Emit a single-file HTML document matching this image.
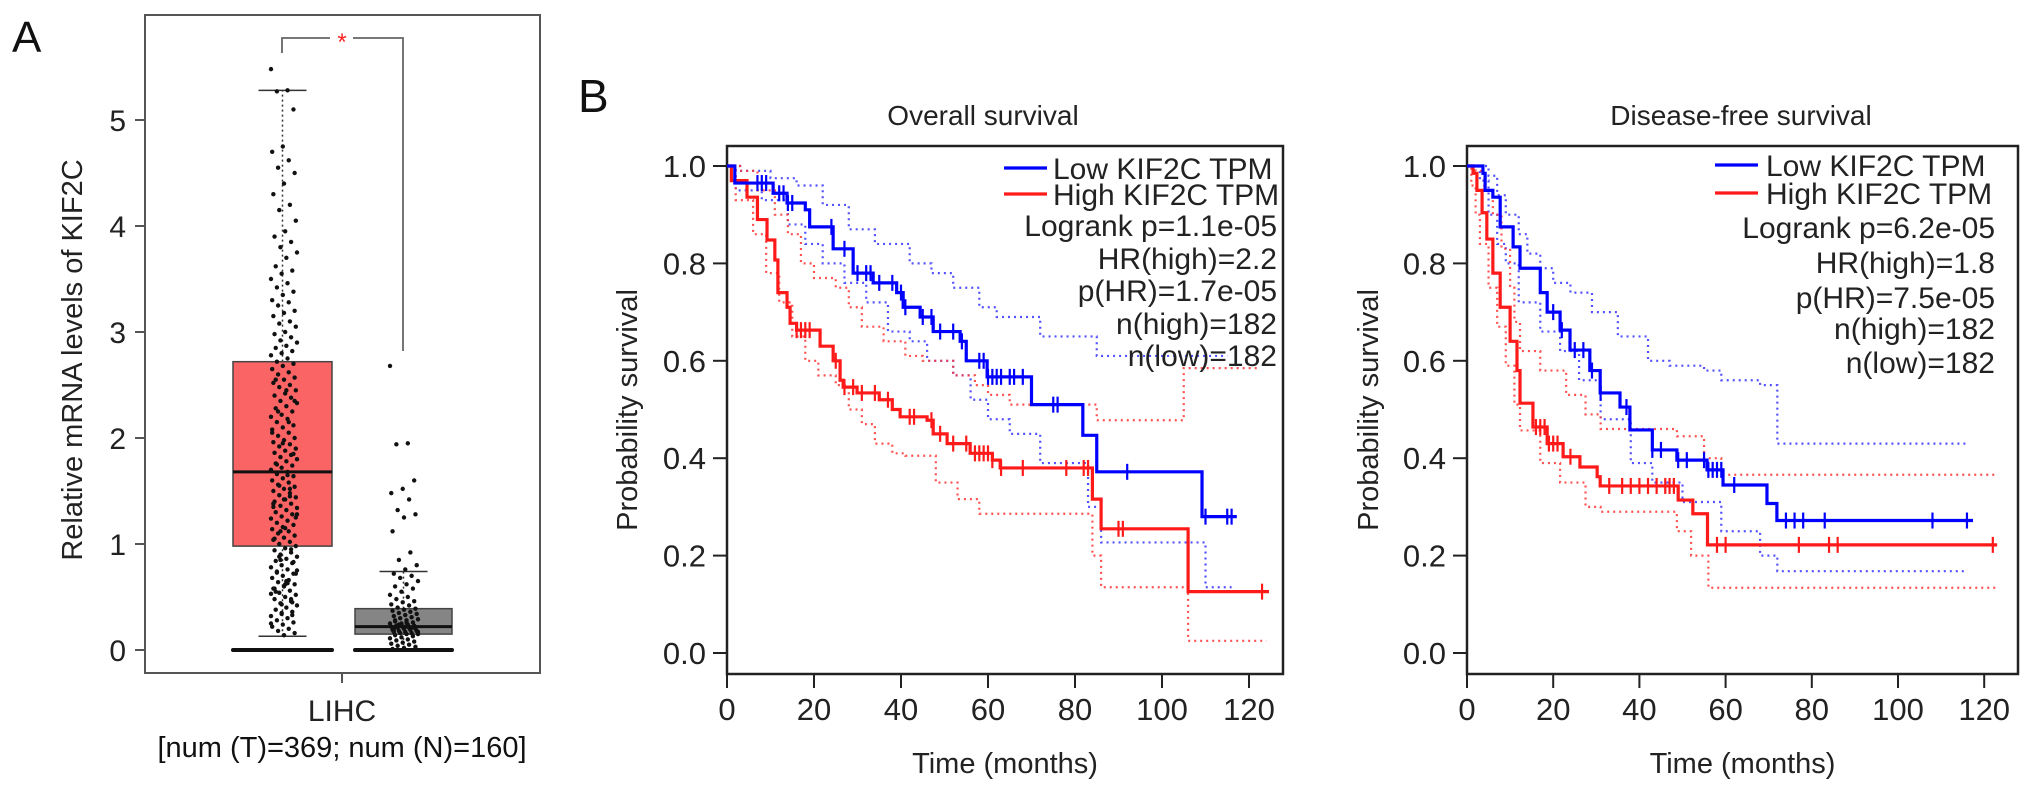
<!DOCTYPE html>
<html><head><meta charset="utf-8">
<style>
html,body{margin:0;padding:0;background:#fff;}
svg{display:block;font-family:"Liberation Sans",Arial,sans-serif;}
</style></head>
<body>
<svg id="fig" width="2032" height="794" viewBox="0 0 2032 794" xmlns="http://www.w3.org/2000/svg">
  <rect x="0" y="0" width="2032" height="794" fill="#fff"/>
  <g id="panelA">
    <text x="12" y="52" font-size="44" fill="#111">A</text>
    <rect x="145" y="15" width="395" height="658" fill="none" stroke="#555" stroke-width="2"/>
    <text transform="translate(82,360) rotate(-90)" text-anchor="middle" font-size="29" fill="#222">Relative mRNA levels of KIF2C</text>
    <g id="aAxis"></g>
    <g id="aMarks"></g>
    <line x1="342" y1="673" x2="342" y2="683" stroke="#555" stroke-width="2"/>
    <text x="342" y="721" text-anchor="middle" font-size="30" fill="#222">LIHC</text>
    <text x="342" y="757" text-anchor="middle" font-size="29" fill="#111">[num (T)=369; num (N)=160]</text>
  </g>
  <text x="578" y="112" font-size="46" fill="#111">B</text>
  <g id="os"></g>
  <g id="dfs"></g>
</svg>
<script>
const tumorBox = [0.13, 0.98, 1.68, 2.72, 5.28];
const normalBox = [0.0, 0.15, 0.22, 0.39, 0.74];
const aTicks = [0, 1, 2, 3, 4, 5];
const tumorPoints = [5.48,5.28,5.27,5.1,4.75,4.7,4.62,4.55,4.5,4.4,4.3,4.2,4.15,4.05,3.95,3.9,3.85,3.8,3.75,3.7,3.62,3.58,3.55,3.5,3.46,3.42,3.38,3.35,3.3,3.28,3.25,3.2,3.18,3.15,3.1,3.08,3.05,3.0,2.98,2.95,2.92,2.9,2.87,2.85,2.82,2.8,2.78,2.75,2.72,2.7,2.68,2.65,2.62,2.6,2.57,2.55,2.52,2.5,2.48,2.45,2.42,2.4,2.38,2.35,2.33,2.3,2.28,2.25,2.22,2.2,2.18,2.15,2.12,2.1,2.08,2.05,2.02,2.0,1.98,1.96,1.94,1.92,1.9,1.88,1.86,1.84,1.82,1.8,1.78,1.76,1.74,1.72,1.7,1.68,1.66,1.64,1.62,1.6,1.58,1.56,1.54,1.52,1.5,1.48,1.46,1.44,1.42,1.4,1.38,1.36,1.34,1.32,1.3,1.28,1.26,1.24,1.22,1.2,1.18,1.16,1.14,1.12,1.1,1.08,1.06,1.04,1.02,1.0,0.98,0.96,0.94,0.92,0.9,0.88,0.86,0.84,0.82,0.8,0.78,0.76,0.74,0.72,0.7,0.68,0.66,0.64,0.62,0.6,0.58,0.56,0.54,0.52,0.5,0.48,0.46,0.44,0.42,0.4,0.38,0.36,0.34,0.32,0.3,0.28,0.26,0.24,0.22,0.2,0.18,0.16,0.14,1.35,1.45,1.55,1.25,1.15,1.05,0.95,0.85,0.75,0.65,0.55,0.45,0.35,0.25,1.65,1.75,1.85,1.95,2.05,2.15,2.25,2.35,1.42,1.38,1.52,0.88,0.72,0.62,0.58,0.48,1.12,1.28,2.45,2.55,0.33,0.43,0.53,0.63,0.73,0.83];
const normalPoints = [2.68,1.95,1.94,1.6,1.52,1.48,1.42,1.32,1.28,1.25,1.12,0.92,0.85,0.8,0.76,0.72,0.7,0.68,0.65,0.62,0.6,0.58,0.55,0.52,0.5,0.48,0.46,0.45,0.43,0.42,0.4,0.39,0.38,0.37,0.36,0.35,0.34,0.33,0.32,0.31,0.3,0.29,0.28,0.27,0.26,0.25,0.25,0.24,0.23,0.23,0.22,0.22,0.21,0.21,0.2,0.2,0.19,0.19,0.18,0.18,0.17,0.17,0.16,0.16,0.15,0.15,0.14,0.13,0.12,0.11,0.1,0.09,0.08,0.07,0.06,0.05,0.04,0.03,0.02,0.01,0.2,0.24,0.18,0.22,0.19,0.21,0.23,0.17,0.26,0.28];

const xTicks = [0, 20, 40, 60, 80, 100, 120];
const yTicks = [0.0, 0.2, 0.4, 0.6, 0.8, 1.0];
const osLowT = [1.8,10.6,13.8,18,19,24.4,29,33.6,39,40.5,44.4,47.4,53.6,55,59.8,70,81.8,85,109.2];
const osLowS = [0.965,0.944,0.924,0.91,0.875,0.83,0.78,0.76,0.74,0.71,0.69,0.66,0.64,0.60,0.567,0.51,0.447,0.372,0.28];
const osLowEnd = 117.2;
const osHighT = [1,4.6,7,9.2,11,11.7,13.8,14.5,16,21.4,24.4,26,26.7,29.9,35,38,39.8,46,47.4,50.6,55.9,61,62.8,84,86,106];
const osHighS = [0.97,0.936,0.89,0.848,0.807,0.74,0.71,0.677,0.663,0.63,0.60,0.56,0.546,0.534,0.52,0.50,0.485,0.478,0.45,0.43,0.41,0.396,0.38,0.316,0.255,0.126];
const osHighEnd = 124.6;
const osLowUpT = [3,10,16,22,28,34,42,47,52,58,62,72,85];
const osLowUpS = [0.99,0.975,0.96,0.92,0.87,0.84,0.80,0.78,0.75,0.71,0.69,0.65,0.61];
const osLowLoT = [2,8,14,18,22,27,32,37,42,46,52,56,60,65,72,83,86,110];
const osLowLoS = [0.95,0.93,0.88,0.84,0.80,0.76,0.72,0.66,0.64,0.60,0.57,0.52,0.48,0.45,0.39,0.30,0.227,0.135];
const osHighUpT = [3,7,11,14,17,20,25,28,31,36,41,45,52,57,60,65,85,105];
const osHighUpS = [0.99,0.95,0.90,0.86,0.80,0.77,0.75,0.71,0.67,0.64,0.61,0.60,0.57,0.55,0.53,0.51,0.478,0.585];
const osHighLoT = [2,6,9,12,15,18,21,25,28,31,34,38,41,48,53,58,84,86,106];
const osHighLoS = [0.93,0.86,0.78,0.72,0.65,0.60,0.57,0.55,0.50,0.47,0.43,0.41,0.405,0.35,0.316,0.286,0.2,0.135,0.025];
const osLowCens = [7,8,9,12,13,14,15,24,27,30,32,33,35,38,40,41,45,47,49,52,54,58,59,60,61,62,63,65,66,68,75,76,92,110,115,116];
const osHighCens = [16,17,18,19,25,27,29,31,34,37,42,43,47,49,52,55,57,58,59,60,61,63,68,78,82,83,90,91,123];
const dfsLowT = [3.7,4.2,6,7.7,10.7,12.3,17,18.6,21.6,23.9,28.5,30.9,35.5,37.8,43,48.7,55.7,59.4,69.6,71.9];
const dfsLowS = [0.985,0.95,0.936,0.875,0.834,0.79,0.74,0.70,0.663,0.622,0.58,0.534,0.505,0.458,0.417,0.396,0.376,0.345,0.307,0.272];
const dfsLowEnd = 117.4;
const dfsHighT = [1.4,2.3,3.5,4.6,6,7.7,10,11.6,12.3,15.3,18.6,22.3,26.2,30.2,30.9,49,52.4,55.8];
const dfsHighS = [0.985,0.95,0.904,0.85,0.78,0.71,0.64,0.58,0.513,0.464,0.43,0.403,0.382,0.362,0.343,0.314,0.286,0.222];
const dfsHighEnd = 123;
const dfsLowUpT = [5,7,9,12,14,17,20,24,29,35,42,47,55,59,68,72];
const dfsLowUpS = [0.98,0.94,0.90,0.86,0.82,0.79,0.76,0.74,0.70,0.65,0.60,0.59,0.58,0.56,0.55,0.43];
const dfsLowLoT = [3,5,7,9,12,17,21.6,26,31,38,43,50,59,68,72];
const dfsLowLoS = [0.97,0.90,0.84,0.80,0.72,0.66,0.62,0.56,0.48,0.39,0.35,0.31,0.25,0.2,0.168];
const dfsHighUpT = [2,4,6,8,10,11,12.3,17,23,27.5,31,48.7,55,59];
const dfsHighUpS = [0.99,0.95,0.90,0.83,0.75,0.68,0.62,0.58,0.53,0.49,0.46,0.445,0.40,0.366];
const dfsHighLoT = [1,2,3,5,7,9,11,12.3,17,21.6,27.5,31,48.7,52,56];
const dfsHighLoS = [0.96,0.90,0.84,0.75,0.67,0.59,0.51,0.457,0.39,0.35,0.30,0.29,0.25,0.2,0.134];
const dfsLowCens = [20,22,25,27,29,31,37,43,45,49,51,55,56,57,58,59,62,74,76,78,83,108,116];
const dfsHighCens = [16,17,18,19,20,21,24,33,36,38,40,42,44,46,47,48,58,60,77,84,86,122];
const osStats = ["Logrank p=1.1e-05","HR(high)=2.2","p(HR)=1.7e-05","n(high)=182","n(low)=182"];
const dfsStats = ["Logrank p=6.2e-05","HR(high)=1.8","p(HR)=7.5e-05","n(high)=182","n(low)=182"];

const NS = "http://www.w3.org/2000/svg";
function mk(parent, tag, attrs) {
  const el = document.createElementNS(NS, tag);
  for (const k in attrs) el.setAttribute(k, attrs[k]);
  parent.appendChild(el);
  return el;
}

(function(){
  const ay = v => 650 - v * 106;
  const axis = document.getElementById('aAxis');
  aTicks.forEach(v => {
    const t = mk(axis, 'line', {x1:135, x2:145, y1:ay(v), y2:ay(v), stroke:'#555', 'stroke-width':2});
    
    
    const l = mk(axis, 'text', {x:126, y:ay(v)+11, 'text-anchor':'end', 'font-size':30, fill:'#222'});
    l.textContent = v;
    
    
  });
  const g = document.getElementById('aMarks');
  function box(stats, x0, x1, fill, name) {
    const cx = (x0 + x1) / 2;
    const grp = mk(g, 'g', {});
    
    
    mk(grp, 'line', {x1:cx, x2:cx, y1:ay(stats[0]), y2:ay(stats[1]), stroke:'#333', 'stroke-width':1.5, 'stroke-dasharray':'2 3'});
    mk(grp, 'line', {x1:cx, x2:cx, y1:ay(stats[3]), y2:ay(stats[4]), stroke:'#333', 'stroke-width':1.5, 'stroke-dasharray':'2 3'});
    mk(grp, 'line', {x1:cx-24, x2:cx+24, y1:ay(stats[0]), y2:ay(stats[0]), stroke:'#333', 'stroke-width':1.5});
    mk(grp, 'line', {x1:cx-24, x2:cx+24, y1:ay(stats[4]), y2:ay(stats[4]), stroke:'#333', 'stroke-width':1.5});
    mk(grp, 'rect', {x:x0, y:ay(stats[3]), width:x1-x0, height:ay(stats[1])-ay(stats[3]), fill:fill, stroke:'#444', 'stroke-width':1.5});
    mk(grp, 'line', {x1:x0, x2:x1, y1:ay(stats[2]), y2:ay(stats[2]), stroke:'#111', 'stroke-width':3});
    mk(grp, 'line', {x1:x0, x2:x1, y1:ay(0), y2:ay(0), stroke:'#111', 'stroke-width':4, 'stroke-linecap':'round'});
  }
  box(tumorBox, 233, 332, '#fa6464', 'tumor-box');
  box(normalBox, 355, 452, '#858585', 'normal-box');
  function dots(vals, cx, spread, name) {
    const grp = mk(g, 'g', {fill:'#111'});
    
    
    vals.forEach((v, i) => {
      const off = (((i * 37) % 23) - 11) / 11 * spread;
      const c = mk(grp, 'circle', {cx:cx+off, cy:ay(v), r:2.2});
      
      
    });
  }
  dots(tumorPoints, 284, 13, 'tumor-points');
  dots(normalPoints, 404, 14, 'normal-points');
  const br = mk(g, 'path', {d:'M282,53 V38 H330 M353,38 H403 V351', fill:'none', stroke:'#666', 'stroke-width':1.8});
  
  
  const st = mk(g, 'text', {x:342, y:50, 'text-anchor':'middle', 'font-size':24, fill:'#f22'});
  st.textContent = '*';
  
  
})();

function drawKM(gid, cfg) {
  const g = document.getElementById(gid);
  const L = cfg.left, R = cfg.right, T = 146, B = 674;
  const xs = t => L + t * cfg.pxPerMonth;
  const ys = s => 653 - s * 487;
  const title = mk(g, 'text', {x:cfg.titleX, y:125, 'text-anchor':'middle', 'font-size':28, fill:'#222'});
  title.textContent = cfg.title;
  
  
  const fr = mk(g, 'rect', {x:L, y:T, width:R-L, height:B-T, fill:'none', stroke:'#222', 'stroke-width':2.5});
  
  
  yTicks.forEach(v => {
    const t = mk(g, 'line', {x1:L-14, x2:L, y1:ys(v), y2:ys(v), stroke:'#222', 'stroke-width':2});
    
    
    const l = mk(g, 'text', {x:L-21, y:ys(v)+11, 'text-anchor':'end', 'font-size':31, fill:'#222'});
    l.textContent = v.toFixed(1);
    
    
  });
  xTicks.forEach(v => {
    const t = mk(g, 'line', {x1:xs(v), x2:xs(v), y1:B, y2:B+14, stroke:'#222', 'stroke-width':2});
    
    
    const l = mk(g, 'text', {x:xs(v), y:720, 'text-anchor':'middle', 'font-size':31, fill:'#222'});
    l.textContent = v;
    
    
  });
  const xt = mk(g, 'text', {x:(L+R)/2, y:773, 'text-anchor':'middle', 'font-size':29, fill:'#222'});
  xt.textContent = 'Time (months)';
  
  
  const yt = mk(g, 'text', {transform:'translate(' + cfg.yTitleX + ',410) rotate(-90)', 'text-anchor':'middle', 'font-size':29, fill:'#222'});
  yt.textContent = 'Probability survival';
  
  

  function stepPath(ts, ss, end) {
    let d = 'M' + xs(0) + ',' + ys(1);
    for (let i = 0; i < ts.length; i++) d += ' H' + xs(ts[i]) + ' V' + ys(ss[i]);
    d += ' H' + xs(end);
    return d;
  }
  function survAt(ts, ss, t) {
    let s = 1;
    for (let i = 0; i < ts.length; i++) if (ts[i] <= t) s = ss[i];
    return s;
  }
  cfg.bands.forEach(b => {
    const p = mk(g, 'path', {d:stepPath(b.t, b.s, b.end), fill:'none', stroke:b.color, 'stroke-width':2.2, 'stroke-dasharray':'2 4', opacity:0.85});
    
    
  });
  cfg.curves.forEach(c => {
    const p = mk(g, 'path', {d:stepPath(c.t, c.s, c.end), fill:'none', stroke:c.color, 'stroke-width':3.2});
    
    
    c.cens.forEach(m => {
      const y = ys(survAt(c.t, c.s, m));
      const k = mk(g, 'line', {x1:xs(m), x2:xs(m), y1:y-8, y2:y+8, stroke:c.color, 'stroke-width':2.2});
      
      
    });
  });
  const lg = mk(g, 'g', {});
  
  
  const rows = cfg.legendRows;
  const b1 = mk(lg, 'line', {x1:cfg.lineX0, x2:cfg.lineX1, y1:rows[0], y2:rows[0], stroke:'#0000ff', 'stroke-width':3.2});
  
  
  const r1 = mk(lg, 'line', {x1:cfg.lineX0, x2:cfg.lineX1, y1:rows[1], y2:rows[1], stroke:'#ff1a1a', 'stroke-width':3.2});
  
  
  const t1 = mk(lg, 'text', {x:cfg.textX, y:rows[0]+11, 'font-size':30, fill:'#222'});
  t1.textContent = 'Low KIF2C TPM';
  
  
  const t2 = mk(lg, 'text', {x:cfg.textX, y:rows[1]+11, 'font-size':30, fill:'#222'});
  t2.textContent = 'High KIF2C TPM';
  
  
  cfg.stats.forEach((s, i) => {
    const t = mk(lg, 'text', {x:cfg.statsRight, y:rows[i+2]+11, 'text-anchor':'end', 'font-size':30, fill:'#222'});
    t.textContent = s;
    
    
  });
}

drawKM('os', {
  left:727, right:1283, pxPerMonth:4.35, title:'Overall survival', titleX:983, yTitleX:637,
  legendRows:[168,194,225,258,290,323,355], lineX0:1004, lineX1:1047, textX:1053, statsRight:1277,
  stats:osStats,
  bands:[
    {t:osLowUpT, s:osLowUpS, end:115, color:'#3333ff', name:'os-low-upper-ci'},
    {t:osLowLoT, s:osLowLoS, end:116, color:'#3333ff', name:'os-low-lower-ci'},
    {t:osHighUpT, s:osHighUpS, end:122, color:'#ff3333', name:'os-high-upper-ci'},
    {t:osHighLoT, s:osHighLoS, end:124, color:'#ff3333', name:'os-high-lower-ci'}
  ],
  curves:[
    {t:osHighT, s:osHighS, end:osHighEnd, color:'#ff1a1a', cens:osHighCens, name:'os-high-curve'},
    {t:osLowT, s:osLowS, end:osLowEnd, color:'#0000ff', cens:osLowCens, name:'os-low-curve'}
  ]
});
drawKM('dfs', {
  left:1467, right:2018, pxPerMonth:4.31, title:'Disease-free survival', titleX:1741, yTitleX:1378,
  legendRows:[165,193,227,262,297,328,362], lineX0:1715, lineX1:1758, textX:1766, statsRight:1995,
  stats:dfsStats,
  bands:[
    {t:dfsLowUpT, s:dfsLowUpS, end:116, color:'#3333ff', name:'dfs-low-upper-ci'},
    {t:dfsLowLoT, s:dfsLowLoS, end:116, color:'#3333ff', name:'dfs-low-lower-ci'},
    {t:dfsHighUpT, s:dfsHighUpS, end:123, color:'#ff3333', name:'dfs-high-upper-ci'},
    {t:dfsHighLoT, s:dfsHighLoS, end:123, color:'#ff3333', name:'dfs-high-lower-ci'}
  ],
  curves:[
    {t:dfsHighT, s:dfsHighS, end:dfsHighEnd, color:'#ff1a1a', cens:dfsHighCens, name:'dfs-high-curve'},
    {t:dfsLowT, s:dfsLowS, end:dfsLowEnd, color:'#0000ff', cens:dfsLowCens, name:'dfs-low-curve'}
  ]
});
</script>
</body></html>
